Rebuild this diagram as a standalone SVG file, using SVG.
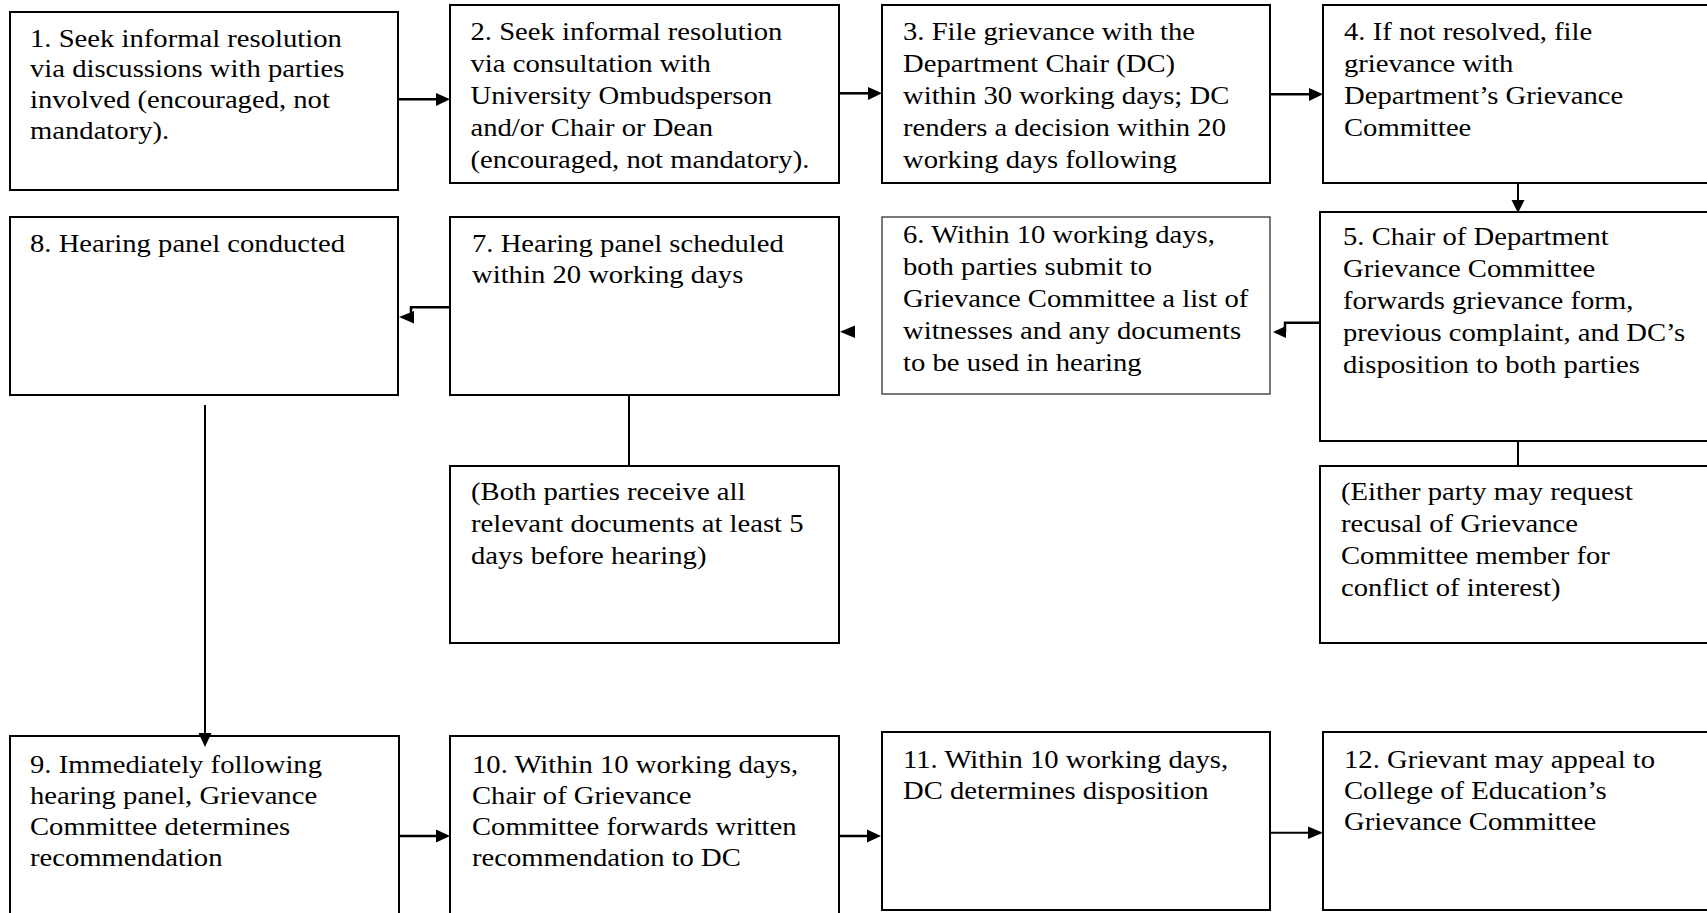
<svg xmlns="http://www.w3.org/2000/svg" width="1707" height="913" viewBox="0 0 1707 913">
<style>
.box{fill:#fff;stroke:#000;stroke-width:2}
.thin{fill:#fff;stroke:#222;stroke-width:1.2}
.t{font-family:"Liberation Serif","Times New Roman",serif;font-size:25.6px;fill:#000}
.ln{fill:none;stroke:#000;stroke-width:2.5}
.ln2{fill:none;stroke:#000;stroke-width:2}
.ah{fill:#000}
</style>
<rect width="1707" height="913" fill="#fff"/>
<g id="n1"><rect class="box" x="10" y="12" width="388" height="178"/>
<text class="t" transform="translate(30 46.5) scale(1.12 1)"><tspan x="0" y="0">1. Seek informal resolution</tspan><tspan x="0" y="31">via discussions with parties</tspan><tspan x="0" y="62">involved (encouraged, not</tspan><tspan x="0" y="93">mandatory).</tspan></text></g>
<g id="n2"><rect class="box" x="450" y="5" width="389" height="178"/>
<text class="t" transform="translate(470.5 40) scale(1.12 1)"><tspan x="0" y="0">2. Seek informal resolution</tspan><tspan x="0" y="32">via consultation with</tspan><tspan x="0" y="64">University Ombudsperson</tspan><tspan x="0" y="96">and/or Chair or Dean</tspan><tspan x="0" y="128">(encouraged, not mandatory).</tspan></text></g>
<g id="n3"><rect class="box" x="882" y="5" width="388" height="178"/>
<text class="t" transform="translate(903 40) scale(1.12 1)"><tspan x="0" y="0">3. File grievance with the</tspan><tspan x="0" y="32">Department Chair (DC)</tspan><tspan x="0" y="64">within 30 working days; DC</tspan><tspan x="0" y="96">renders a decision within 20</tspan><tspan x="0" y="128">working days following</tspan></text></g>
<g id="n4"><rect class="box" x="1323" y="5" width="400" height="178"/>
<text class="t" transform="translate(1344 40) scale(1.12 1)"><tspan x="0" y="0">4. If not resolved, file</tspan><tspan x="0" y="32">grievance with</tspan><tspan x="0" y="64">Department’s Grievance</tspan><tspan x="0" y="96">Committee</tspan></text></g>
<g id="n5"><rect class="box" x="1320" y="212" width="400" height="229"/>
<text class="t" transform="translate(1343 245) scale(1.12 1)"><tspan x="0" y="0">5. Chair of Department</tspan><tspan x="0" y="32">Grievance Committee</tspan><tspan x="0" y="64">forwards grievance form,</tspan><tspan x="0" y="96">previous complaint, and DC’s</tspan><tspan x="0" y="128">disposition to both parties</tspan></text></g>
<g id="n5note"><rect class="box" x="1320" y="466" width="400" height="177"/>
<text class="t" transform="translate(1341 500) scale(1.12 1)"><tspan x="0" y="0">(Either party may request</tspan><tspan x="0" y="32">recusal of Grievance</tspan><tspan x="0" y="64">Committee member for</tspan><tspan x="0" y="96">conflict of interest)</tspan></text></g>
<g id="n6"><rect class="thin" x="882" y="217" width="388" height="177"/>
<text class="t" transform="translate(903 243) scale(1.12 1)"><tspan x="0" y="0">6. Within 10 working days,</tspan><tspan x="0" y="32">both parties submit to</tspan><tspan x="0" y="64">Grievance Committee a list of</tspan><tspan x="0" y="96">witnesses and any documents</tspan><tspan x="0" y="128">to be used in hearing</tspan></text></g>
<g id="n7"><rect class="box" x="450" y="217" width="389" height="178"/>
<text class="t" transform="translate(472 251.5) scale(1.12 1)"><tspan x="0" y="0">7. Hearing panel scheduled</tspan><tspan x="0" y="32">within 20 working days</tspan></text></g>
<g id="n7note"><rect class="box" x="450" y="466" width="389" height="177"/>
<text class="t" transform="translate(471 500) scale(1.12 1)"><tspan x="0" y="0">(Both parties receive all</tspan><tspan x="0" y="32">relevant documents at least 5</tspan><tspan x="0" y="64">days before hearing)</tspan></text></g>
<g id="n8"><rect class="box" x="10" y="217" width="388" height="178"/>
<text class="t" transform="translate(30 251.5) scale(1.12 1)"><tspan x="0" y="0">8. Hearing panel conducted</tspan></text></g>
<g id="n9"><rect class="box" x="10" y="736" width="389" height="190"/>
<text class="t" transform="translate(30 773) scale(1.12 1)"><tspan x="0" y="0">9. Immediately following</tspan><tspan x="0" y="31">hearing panel, Grievance</tspan><tspan x="0" y="62">Committee determines</tspan><tspan x="0" y="93">recommendation</tspan></text></g>
<g id="n10"><rect class="box" x="450" y="736" width="389" height="190"/>
<text class="t" transform="translate(472 773) scale(1.12 1)"><tspan x="0" y="0">10. Within 10 working days,</tspan><tspan x="0" y="31">Chair of Grievance</tspan><tspan x="0" y="62">Committee forwards written</tspan><tspan x="0" y="93">recommendation to DC</tspan></text></g>
<g id="n11"><rect class="box" x="882" y="732" width="388" height="178"/>
<text class="t" transform="translate(903 768) scale(1.12 1)"><tspan x="0" y="0">11. Within 10 working days,</tspan><tspan x="0" y="31">DC determines disposition</tspan></text></g>
<g id="n12"><rect class="box" x="1323" y="732" width="400" height="178"/>
<text class="t" transform="translate(1344 768) scale(1.12 1)"><tspan x="0" y="0">12. Grievant may appeal to</tspan><tspan x="0" y="31">College of Education’s</tspan><tspan x="0" y="62">Grievance Committee</tspan></text></g>
<g id="connectors">
<path class="ln" d="M398 99.3H437"/><polygon class="ah" points="436,93 436,106 450,99.3"/>
<path class="ln" d="M839 93.3H870"/><polygon class="ah" points="868,87 868,100 882,93.3"/>
<path class="ln" d="M1270 94.3H1311"/><polygon class="ah" points="1309,88 1309,101 1323,94.3"/>
<path class="ln2" d="M1518 183V202"/><polygon class="ah" points="1511.5,200 1524.5,200 1518,213"/>
<path class="ln" d="M1320 322.7H1285V332"/><polygon class="ah" points="1286,326 1286,338 1273,332"/>
<polygon class="ah" points="855,325.5 855,338 840,331.7"/>
<path class="ln" d="M450 307.3H411V317"/><polygon class="ah" points="414,311 414,323.5 399,317"/>
<path class="ln2" d="M629 395V466"/>
<path class="ln2" d="M1518 441V466"/>
<path class="ln2" d="M205 405V735"/><polygon class="ah" points="198.5,733 211.5,733 205,747"/>
<path class="ln" d="M399 836H437"/><polygon class="ah" points="436,829.5 436,842.5 450,836"/>
<path class="ln" d="M839 836H869"/><polygon class="ah" points="867,829.5 867,842.5 881,836"/>
<path class="ln2" d="M1270 832.7H1310"/><polygon class="ah" points="1308,826.5 1308,839 1323,832.7"/>
</g>
</svg>
